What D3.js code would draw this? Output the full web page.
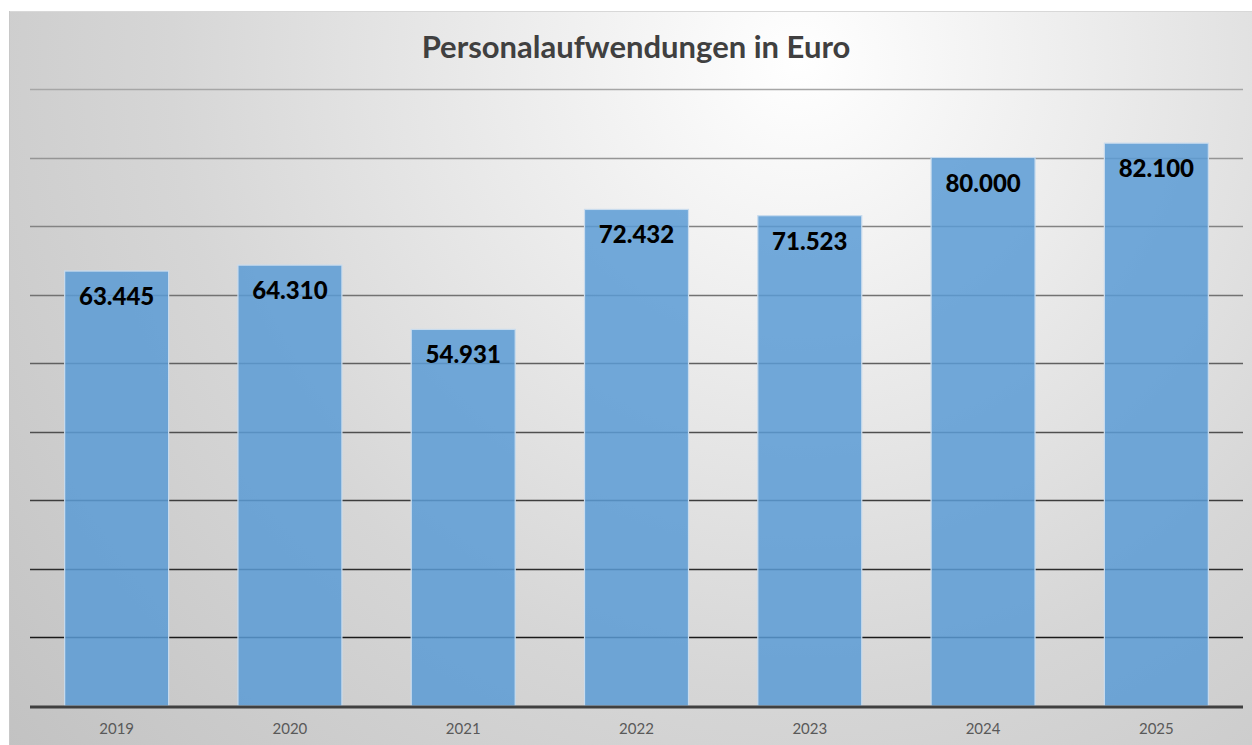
<!DOCTYPE html>
<html>
<head>
<meta charset="utf-8">
<script src="https://cdn.jsdelivr.net/npm/d3@7"></script>
<style>
  body { margin:0; background:#fff; }
  svg { display:block; }
</style>
</head>
<body>
<script>
// data
var years = ["2019","2020","2021","2022","2023","2024","2025"];
var amounts = [63445, 64310, 54931, 72432, 71523, 80000, 82100];
var yTicks = [0,10000,20000,30000,40000,50000,60000,70000,80000,90000];
var title = "Personalaufwendungen in Euro";

var W = 1252, H = 745;
var svg = d3.select("body").append("svg").attr("width",W).attr("height",H);

var defs = svg.append("defs");
var grad = defs.append("radialGradient").attr("id","bg")
    .attr("gradientUnits","userSpaceOnUse")
    .attr("cx",800).attr("cy",60).attr("r",1050);
grad.append("stop").attr("offset","0").attr("stop-color","#ffffff");
grad.append("stop").attr("offset","0.6").attr("stop-color","#d6d6d6");
grad.append("stop").attr("offset","1").attr("stop-color","#c2c2c2");

svg.append("rect").attr("x",9).attr("y",11).attr("width",W-9).attr("height",H-11)
    .attr("fill","url(#bg)");
svg.append("line").attr("x1",9).attr("x2",W).attr("y1",11.5).attr("y2",11.5)
    .attr("stroke","#d8d8d8").attr("stroke-width",1);
svg.append("line").attr("x1",9.5).attr("x2",9.5).attr("y1",11).attr("y2",H)
    .attr("stroke","#c8c8c8").attr("stroke-width",1);

var plotLeft = 30, plotRight = 1243, plotTop = 89, plotBase = 706;

var x = d3.scaleBand().domain(years).range([plotLeft,plotRight]).paddingInner(0.4).paddingOuter(0.2);
var y = d3.scaleLinear().domain([0,90000]).range([plotBase,plotTop]);

var gridColor = d3.scaleLinear().domain([90000,10000]).range(["#a6a6a6","#1a1a1a"]);

// grid
svg.append("g").selectAll("line").data(yTicks.filter(function(d){ return d>0; }))
    .enter().append("line")
    .attr("x1",plotLeft).attr("x2",plotRight)
    .attr("y1",function(d){ return Math.round(y(d))+0.5; })
    .attr("y2",function(d){ return Math.round(y(d))+0.5; })
    .attr("stroke",function(d){ return gridColor(d); })
    .attr("stroke-width",1.6);

// bars
svg.append("g").selectAll("rect").data(amounts).enter().append("rect")
    .attr("x",function(d,i){ return x(years[i]); })
    .attr("y",function(d){ return y(d); })
    .attr("width",x.bandwidth())
    .attr("height",function(d){ return plotBase - y(d); })
    .attr("fill","#5b9bd5")
    .attr("fill-opacity",0.85)
    .attr("stroke","#c9dcee")
    .attr("stroke-width",1.2);

// baseline
svg.append("line").attr("x1",plotLeft).attr("x2",plotRight).attr("y1",plotBase+1).attr("y2",plotBase+1)
    .attr("stroke","#404040").attr("stroke-width",3);

// value labels
var fmt = function(v){ return d3.format(",")(v).replace(/,/g,"."); };
svg.append("g").selectAll("text").data(amounts).enter().append("text")
    .attr("x",function(d,i){ return x(years[i]) + x.bandwidth()/2; })
    .attr("y",function(d){ return y(d) + 34; })
    .attr("text-anchor","middle")
    .attr("font-family","Lato, 'Open Sans', sans-serif")
    .attr("font-weight","900")
    .attr("font-size","24px")
    .attr("fill","#000")
    .text(fmt);

// x axis labels
var xAxis = d3.axisBottom(x).tickSize(0).tickPadding(17);
var gx = svg.append("g").attr("transform","translate(0,"+plotBase+")").call(xAxis);
gx.select(".domain").remove();
gx.selectAll("text")
    .attr("font-family","Lato, 'Open Sans', sans-serif")
    .attr("font-size","15px")
    .attr("fill","#595959");

// title
svg.append("text").attr("x",636).attr("y",58).attr("text-anchor","middle")
    .attr("font-family","Lato, 'Open Sans', sans-serif")
    .attr("font-weight","bold").attr("font-size","31px")
    .attr("fill","#404040")
    .text(title);
</script>
</body>
</html>
